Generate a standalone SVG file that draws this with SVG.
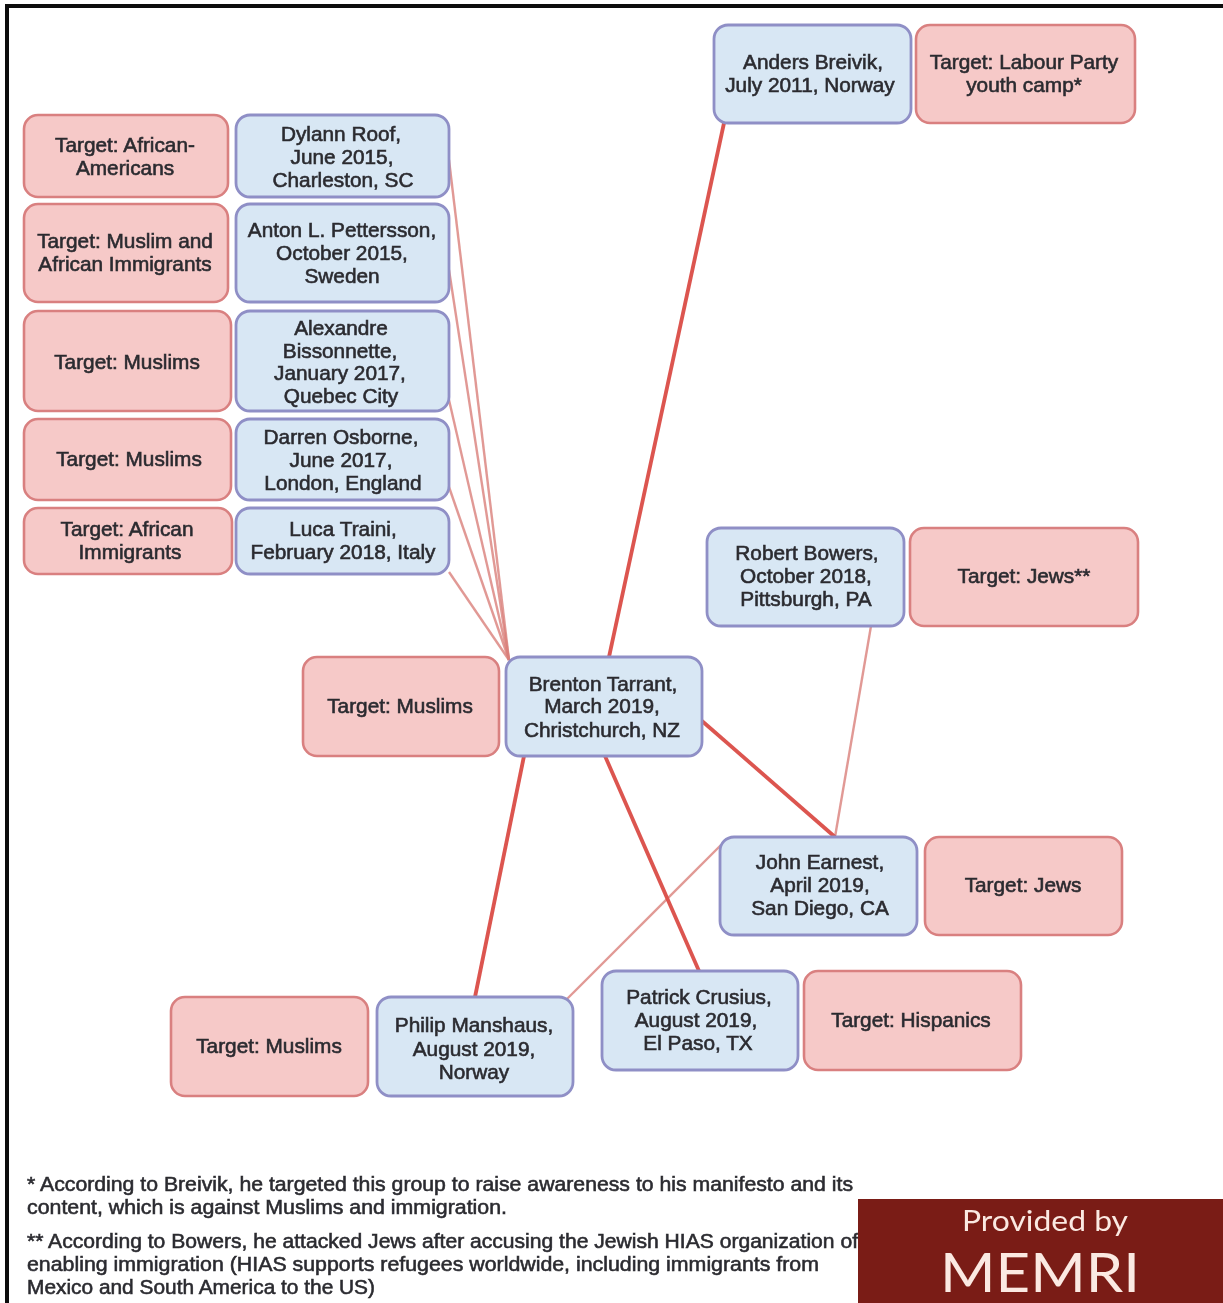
<svg xmlns="http://www.w3.org/2000/svg" width="1223" height="1303" viewBox="0 0 1223 1303">
<defs>
<filter id="soft" x="-5%" y="-5%" width="110%" height="110%"><feGaussianBlur stdDeviation="0.7"/></filter>
</defs>
<style>
.b{fill:#d8e7f4;stroke:#8f8fc6;stroke-width:2.8}
.r{fill:#f6c9c8;stroke:#d98080;stroke-width:2.6}
.t{font-family:"Liberation Sans",Arial,sans-serif;font-size:20.8px;fill:#2b2b30;stroke:#2b2b30;stroke-width:.6;text-anchor:middle}
.f{font-family:"Liberation Sans",Arial,sans-serif;font-size:19.8px;fill:#2b2b30;stroke:#2b2b30;stroke-width:.55}
.thick{stroke:#dc5550;stroke-width:3.8;fill:none}
.thin{stroke:#d9807a;stroke-width:2.4;fill:none;opacity:.8}
.lg{font-family:Lato,"Open Sans",sans-serif;fill:#fbe9e2;text-anchor:middle}
</style>
<rect width="1223" height="1303" fill="#fff"/>
<rect x="5" y="4" width="1218" height="4" fill="#0d0d0d"/>
<rect x="5" y="4" width="4" height="1299" fill="#0d0d0d"/>
<g id="connectors" filter="url(#soft)">
<path class="thin" d="M449 160L509 660"/>
<path class="thin" d="M449 270L509 660"/>
<path class="thin" d="M449 400L509 660"/>
<path class="thin" d="M449 487L509 660"/>
<path class="thin" d="M449 572L509 660"/>
<path class="thin" d="M871 626L835 837"/>
<path class="thin" d="M721 845L566 1000"/>
<path class="thick" d="M724 123L609 657"/>
<path class="thick" d="M702 721L835 837"/>
<path class="thick" d="M605 756L699 971"/>
<path class="thick" d="M524 756L475 997"/>
</g>
<g filter="url(#soft)">
<g id="t-roof"><rect class="r" x="24" y="115" width="204" height="82" rx="14"/><text class="t" x="125" y="152">Target: African-</text><text class="t" x="125" y="175">Americans</text></g>
<g id="roof"><rect class="b" x="236" y="115" width="213" height="82" rx="14"/><text class="t" x="341" y="141">Dylann Roof,</text><text class="t" x="342" y="164">June 2015,</text><text class="t" x="343" y="187">Charleston, SC</text></g>
<g id="t-pettersson"><rect class="r" x="24" y="204" width="204" height="98" rx="14"/><text class="t" x="125" y="248">Target: Muslim and</text><text class="t" x="125" y="271">African Immigrants</text></g>
<g id="pettersson"><rect class="b" x="236" y="204" width="213" height="98" rx="14"/><text class="t" x="342" y="237">Anton L. Pettersson,</text><text class="t" x="342" y="260">October 2015,</text><text class="t" x="342" y="283">Sweden</text></g>
<g id="t-bissonnette"><rect class="r" x="24" y="311" width="207" height="100" rx="14"/><text class="t" x="127" y="369">Target: Muslims</text></g>
<g id="bissonnette"><rect class="b" x="236" y="311" width="213" height="100" rx="14"/><text class="t" x="341" y="335">Alexandre</text><text class="t" x="340" y="358">Bissonnette,</text><text class="t" x="340" y="380">January 2017,</text><text class="t" x="341" y="403">Quebec City</text></g>
<g id="t-osborne"><rect class="r" x="24" y="419" width="207" height="81" rx="14"/><text class="t" x="129" y="466">Target: Muslims</text></g>
<g id="osborne"><rect class="b" x="236" y="419" width="213" height="81" rx="14"/><text class="t" x="341" y="444">Darren Osborne,</text><text class="t" x="341" y="467">June 2017,</text><text class="t" x="343" y="490">London, England</text></g>
<g id="t-traini"><rect class="r" x="24" y="508" width="208" height="66" rx="14"/><text class="t" x="127" y="536">Target: African</text><text class="t" x="130" y="559">Immigrants</text></g>
<g id="traini"><rect class="b" x="236" y="508" width="213" height="66" rx="14"/><text class="t" x="343" y="536">Luca Traini,</text><text class="t" x="343" y="559">February 2018, Italy</text></g>
<g id="t-tarrant"><rect class="r" x="303" y="657" width="196" height="99" rx="14"/><text class="t" x="400" y="713">Target: Muslims</text></g>
<g id="tarrant"><rect class="b" x="506" y="657" width="196" height="99" rx="14"/><text class="t" x="603" y="691">Brenton Tarrant,</text><text class="t" x="602" y="713">March 2019,</text><text class="t" x="602" y="737">Christchurch, NZ</text></g>
<g id="breivik"><rect class="b" x="714" y="25" width="197" height="98" rx="14"/><text class="t" x="813" y="69">Anders Breivik,</text><text class="t" x="810" y="92">July 2011, Norway</text></g>
<g id="t-breivik"><rect class="r" x="916" y="25" width="219" height="98" rx="14"/><text class="t" x="1024" y="69">Target: Labour Party</text><text class="t" x="1024" y="92">youth camp*</text></g>
<g id="bowers"><rect class="b" x="707" y="528" width="197" height="98" rx="14"/><text class="t" x="807" y="560">Robert Bowers,</text><text class="t" x="806" y="583">October 2018,</text><text class="t" x="806" y="606">Pittsburgh, PA</text></g>
<g id="t-bowers"><rect class="r" x="910" y="528" width="228" height="98" rx="14"/><text class="t" x="1024" y="583">Target: Jews**</text></g>
<g id="earnest"><rect class="b" x="720" y="837" width="197" height="98" rx="14"/><text class="t" x="820" y="869">John Earnest,</text><text class="t" x="820" y="892">April 2019,</text><text class="t" x="820" y="915">San Diego, CA</text></g>
<g id="t-earnest"><rect class="r" x="925" y="837" width="197" height="98" rx="14"/><text class="t" x="1023" y="892">Target: Jews</text></g>
<g id="crusius"><rect class="b" x="602" y="971" width="196" height="99" rx="14"/><text class="t" x="699" y="1004">Patrick Crusius,</text><text class="t" x="696" y="1027">August 2019,</text><text class="t" x="698" y="1050">El Paso, TX</text></g>
<g id="t-crusius"><rect class="r" x="804" y="971" width="217" height="99" rx="14"/><text class="t" x="911" y="1027">Target: Hispanics</text></g>
<g id="manshaus"><rect class="b" x="377" y="997" width="196" height="99" rx="14"/><text class="t" x="474" y="1032">Philip Manshaus,</text><text class="t" x="474" y="1056">August 2019,</text><text class="t" x="474" y="1079">Norway</text></g>
<g id="t-manshaus"><rect class="r" x="171" y="997" width="197" height="99" rx="14"/><text class="t" x="269" y="1053">Target: Muslims</text></g>
<g id="footnotes">
<text class="f" x="27" y="1191" textLength="826" lengthAdjust="spacingAndGlyphs">* According to Breivik, he targeted this group to raise awareness to his manifesto and its</text>
<text class="f" x="27" y="1214" textLength="480" lengthAdjust="spacingAndGlyphs">content, which is against Muslims and immigration.</text>
<text class="f" x="27" y="1248" textLength="831" lengthAdjust="spacingAndGlyphs">** According to Bowers, he attacked Jews after accusing the Jewish HIAS organization of</text>
<text class="f" x="27" y="1271" textLength="792" lengthAdjust="spacingAndGlyphs">enabling immigration (HIAS supports refugees worldwide, including immigrants from</text>
<text class="f" x="27" y="1294" textLength="348" lengthAdjust="spacingAndGlyphs">Mexico and South America to the US)</text>
</g>
</g>
<g id="memri-badge" filter="url(#soft)">
<rect x="858" y="1199" width="365" height="104" fill="#7a1f17"/>
<text class="lg" x="1045" y="1231" font-size="29" textLength="166" lengthAdjust="spacingAndGlyphs">Provided by</text>
<text class="lg" x="1040" y="1292" font-size="54" textLength="200" lengthAdjust="spacingAndGlyphs">MEMRI</text>
</g>
</svg>
